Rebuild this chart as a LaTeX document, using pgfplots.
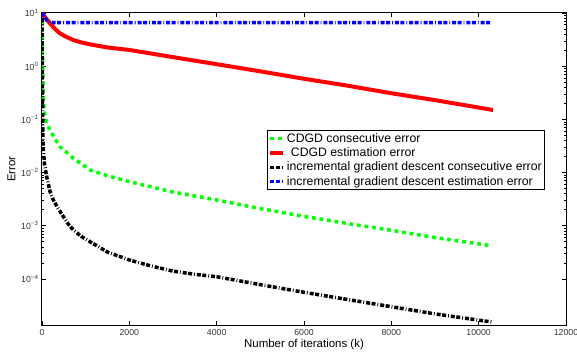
\documentclass[border=0pt]{standalone}
\usepackage{pgfplots}
\pgfplotsset{compat=1.18}
\usepackage{fontspec}
\setmainfont{Liberation Sans}
\begin{document}
\begin{tikzpicture}[x=1bp,y=1bp]
\path[use as bounding box] (-42bp,-27bp) rectangle (535bp,325bp);
\begin{axis}[
  at={(0,0)}, anchor=south west,
  scale only axis, width=524bp, height=312bp,
  ymode=log, xmin=0, xmax=12000, ymin=1.36e-5, ymax=10,
  scaled x ticks=false,
  xtick={0,2000,4000,6000,8000,10000,12000},
  xticklabels={0,2000,4000,6000,8000,10000,12000},
  ytick={1e-4,1e-3,1e-2,1e-1,1,10},
  yticklabels={10\textsuperscript{−4},10\textsuperscript{−3},10\textsuperscript{−2},10\textsuperscript{−1},10\textsuperscript{0},10\textsuperscript{1}},
  tick label style={font=\fontsize{8.8}{10}\selectfont, color=black!80},
  xticklabel style={yshift=-1bp},
  tick align=inside,
  major tick length=4bp, minor tick length=2.5bp,
  axis line style={line width=1bp},
  every tick/.style={black, line width=0.6bp},
  xlabel={Number of iterations (k)},
  ylabel={Error},
  label style={font=\fontsize{11.5}{13}\selectfont},
  xlabel style={yshift=3bp},
  ylabel style={yshift=-1bp},
  legend style={at={(0.429,0.625)}, anchor=north west, font=\fontsize{12.3}{14}\selectfont,
    draw=black, line width=0.8bp, inner xsep=1bp, inner ysep=1bp,
    row sep=0bp, cells={anchor=west}},
  legend image post style={xscale=0.75},
  legend cell align=left,
]
\addplot[green, line width=3.5bp, dash pattern=on 3.8bp off 3.8bp] coordinates {
(0,10)(10,2)(25,0.4)(50,0.14)(100,0.09)(180,0.063)(410,0.0307)(720,0.0186)(1100,0.0112)(1500,0.0087)(2000,0.00675)(3000,0.0043)(4000,0.00305)(5000,0.0021)(6000,0.0015)(7000,0.0011)(8000,0.00082)(9000,0.0006)(10300,0.00042)};
\addlegendentry{CDGD consecutive error}
\addplot[red, line width=4bp] coordinates {
(0,10)(60,8.5)(180,6.4)(300,5.0)(410,4.15)(560,3.55)(720,3.1)(900,2.8)(1100,2.57)(1500,2.25)(2000,2.02)(3000,1.48)(4000,1.09)(5000,0.8)(6000,0.58)(7000,0.43)(8000,0.31)(9000,0.23)(10330,0.15)};
\addlegendentry{\hspace{4bp}CDGD estimation error}
\addplot[black, line width=3.5bp, dash pattern=on 4bp off 1.5bp on 4bp off 2bp on 0.8bp off 2bp] coordinates {
(0,10)(5,2)(12,0.3)(20,0.06)(30,0.0266)(60,0.014)(107,0.0084)(180,0.0045)(260,0.00305)(370,0.0021)(490,0.00148)(600,0.00108)(720,0.00083)(900,0.00063)(1100,0.0005)(1500,0.00032)(2000,0.000227)(2500,0.000175)(3000,0.00014)(3500,0.000122)(4000,0.00011)(5000,0.000078)(6000,0.000056)(7000,0.000041)(8000,0.00003)(9000,0.000022)(10300,0.0000155)};
\addlegendentry{incremental gradient descent consecutive error}
\addplot[blue, line width=3.5bp, dash pattern=on 4bp off 1.5bp on 4bp off 2bp on 0.8bp off 2bp] coordinates {
(0,10)(50,8.3)(120,7.2)(180,6.7)(300,6.57)(10300,6.57)};
\addlegendentry{incremental gradient descent estimation error}
\end{axis}
\end{tikzpicture}
\end{document}
